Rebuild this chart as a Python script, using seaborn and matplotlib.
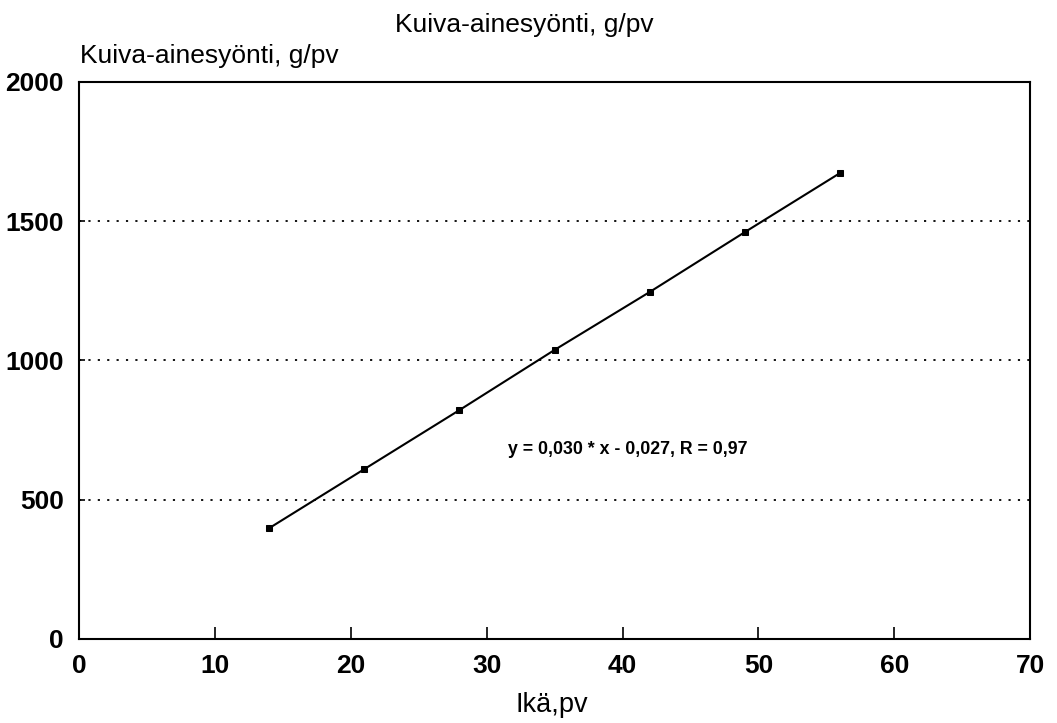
import matplotlib
matplotlib.use("Agg")
import matplotlib.pyplot as plt
import seaborn as sns
import pandas as pd

# Age (days) and dry-matter intake (g/day)
age_days = [14, 21, 28, 35, 42, 49, 56]
intake_g = [398, 610, 822, 1038, 1246, 1461, 1673]

x_ticks = [0, 10, 20, 30, 40, 50, 60, 70]
y_ticks = [0, 500, 1000, 1500, 2000]
grid_levels = [500, 1000, 1500]

title = "Kuiva-ainesyönti, g/pv"
y_title = "Kuiva-ainesyönti, g/pv"
x_title = "Ikä,pv"
equation = "y = 0,030 * x - 0,027, R = 0,97"

sns.set_style("white")
plt.rcParams["font.family"] = ["Liberation Sans", "DejaVu Sans"]
plt.rcParams["text.color"] = "black"
plt.rcParams["axes.labelcolor"] = "black"
plt.rcParams["xtick.color"] = "black"
plt.rcParams["ytick.color"] = "black"

df = pd.DataFrame({"age": age_days, "intake": intake_g})

fig = plt.figure(figsize=(10.57, 7.23), dpi=100)
ax = fig.add_axes([0.0747, 0.1162, 0.9000, 0.7704])

for lvl in grid_levels:
    ax.axhline(lvl, color="black", linestyle=(0, (1.2, 4)), linewidth=1.3, zorder=1)

sns.lineplot(data=df, x="age", y="intake", ax=ax, color="black", linewidth=1.5,
             marker="s", markersize=5, markeredgecolor="black",
             markerfacecolor="black", zorder=3)

ax.set_xlim(0, 70)
ax.set_ylim(0, 2000)
ax.set_xticks(x_ticks)
ax.set_yticks(y_ticks)
ax.tick_params(axis="x", bottom=True, direction="in", length=9, width=1.2,
               labelsize=19, pad=11, colors="black")
ax.tick_params(axis="y", left=True, direction="in", length=4, width=1.2,
               labelsize=19, pad=11, colors="black")
for lab in ax.get_xticklabels() + ax.get_yticklabels():
    lab.set_fontweight("bold")

for side in ["left", "right", "top", "bottom"]:
    ax.spines[side].set_visible(True)
    ax.spines[side].set_color("black")
    ax.spines[side].set_linewidth(1.5)

ax.set_xlabel("")
ax.set_ylabel("")
fig.text(0.5218, 0.0152, x_title, ha="center", va="baseline", fontsize=19.5)
fig.text(0.0757, 0.9129, y_title, ha="left", va="baseline", fontsize=19)
fig.text(0.4965, 0.9557, title, ha="center", va="baseline", fontsize=19)

ax.text(31.6, 680, equation, ha="left", va="center", fontsize=12.8,
        fontweight="bold", color="black")

fig.savefig("out.png", dpi=100)
